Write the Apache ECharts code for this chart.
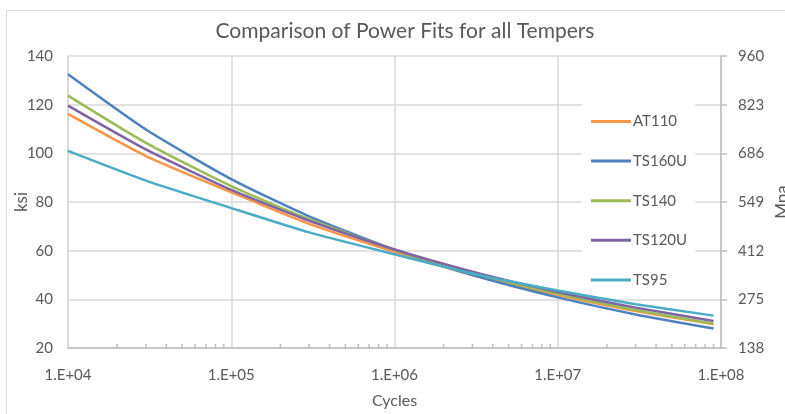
<!DOCTYPE html>
<html>
<head>
<meta charset="utf-8">
<script src="https://cdn.jsdelivr.net/npm/echarts@6/dist/echarts.min.js"></script>
<style>
  html, body { margin: 0; padding: 0; background: #fff; }
  #chart { width: 785px; height: 414px; }
</style>
</head>
<body>
<div id="chart"></div>
<script>
var cycles = [1e4, 3e4, 1e5, 3e5, 1e6, 3e6, 1e7, 3e7, 9e7]

var at110 = [116.2, 98.9, 84.0, 71.0, 59.5, 50.0, 41.8, 35.2, 29.8]
var ts160u = [132.5, 109.8, 89.4, 74.1, 60.4, 50.0, 40.8, 33.8, 28.0]
var ts140 = [123.7, 104.3, 86.5, 72.9, 60.4, 50.9, 42.3, 35.6, 30.0]
var ts120u = [119.6, 101.6, 85.0, 72.3, 60.5, 51.4, 43.0, 36.6, 31.1]
var ts95 = [101.0, 88.8, 77.5, 67.5, 58.5, 50.6, 43.6, 38.0, 33.3]

var mpaTicks = ['138', '275', '412', '549', '686', '823', '960']
var minorTicks = []
;[1e4, 1e5, 1e6, 1e7].forEach(function (d) {
  for (var k = 2; k <= 9; k++) minorTicks.push(d * k)
})

var grey = '#595959'
var font = 'Lato, "Liberation Sans", sans-serif'

function pairs(vals) {
  return cycles.map(function (c, i) { return [c, vals[i]] })
}

function line(name, vals, color) {
  return {
    name: name,
    type: 'line',
    data: pairs(vals),
    symbol: 'none',
    smooth: 0.2,
    lineStyle: { width: 2.5, color: color },
    itemStyle: { color: color },
    z: 3
  }
}

var chart = echarts.init(document.getElementById('chart'))

var option = {
  animation: false,
  textStyle: { fontFamily: font },
  graphic: [
    {
      type: 'rect',
      shape: { x: 6.5, y: 10.5, width: 820, height: 440 },
      style: { fill: 'none', stroke: '#d9d9d9', lineWidth: 1 },
      silent: true
    }
  ],
  title: {
    text: 'Comparison of Power Fits for all Tempers',
    left: 400,
    textAlign: 'center',
    top: 16,
    textStyle: { fontFamily: font, fontSize: 21, fontWeight: 'normal', color: grey }
  },
  grid: { left: 68, right: 64, top: 56, bottom: 66, outerBoundsMode: 'none', containLabel: false },
  legend: {
    orient: 'vertical',
    left: 582,
    top: 104,
    padding: [10, 8, 3, 9],
    backgroundColor: '#fff',
    icon: 'path://M0,0 L40,0 L40,3 L0,3 Z',
    symbolKeepAspect: true,
    itemWidth: 40,
    itemHeight: 14,
    itemGap: 24.6,
    textStyle: { fontFamily: font, fontSize: 15, color: grey, padding: [0, 0, 0, -3] },
    data: ['AT110', 'TS160U', 'TS140', 'TS120U', 'TS95'],
    z: 10
  },
  xAxis: {
    type: 'log',
    logBase: 10,
    min: 1e4,
    max: 1e8,
    name: 'Cycles',
    nameLocation: 'middle',
    nameGap: 45,
    nameMoveOverlap: false,
    nameTextStyle: { fontFamily: font, fontSize: 16, color: grey },
    axisLine: { lineStyle: { color: '#bfbfbf', width: 1.5 } },
    axisTick: { show: false },
    axisLabel: {
      margin: 20,
      fontFamily: font,
      fontSize: 15,
      color: grey,
      formatter: function (v) {
        var e = Math.round(Math.log10(v))
        return '1.E+' + (e < 10 ? '0' + e : e)
      }
    },
    splitLine: { show: true, lineStyle: { color: '#d9d9d9', width: 1.5 } }
  },
  yAxis: [
    {
      type: 'value',
      min: 20,
      max: 140,
      interval: 20,
      name: 'ksi',
      nameLocation: 'middle',
      nameRotate: 90,
      nameGap: 38,
      nameMoveOverlap: false,
      nameTextStyle: { fontFamily: font, fontSize: 17, color: grey },
      axisLine: { show: true, lineStyle: { color: '#d9d9d9', width: 1.5 } },
      axisTick: { show: false },
      axisLabel: { margin: 15, fontFamily: font, fontSize: 15, color: grey },
      splitLine: { show: true, lineStyle: { color: '#d9d9d9', width: 1.5 } }
    },
    {
      type: 'value',
      position: 'right',
      min: 20,
      max: 140,
      interval: 20,
      name: 'Mpa',
      nameLocation: 'middle',
      nameRotate: 90,
      nameGap: 53,
      nameMoveOverlap: false,
      nameTextStyle: { fontFamily: font, fontSize: 17, color: grey },
      axisLine: { show: true, lineStyle: { color: '#bfbfbf', width: 1.5 } },
      axisTick: { show: true, length: 6, inside: false, lineStyle: { color: '#bfbfbf', width: 1.5 } },
      axisLabel: {
        margin: 17,
        fontFamily: font,
        fontSize: 15,
        color: grey,
        formatter: function (v) { return mpaTicks[Math.round((v - 20) / 20)] }
      },
      splitLine: { show: false }
    }
  ],
  series: [
    {
      name: 'minor',
      type: 'custom',
      silent: true,
      data: minorTicks.map(function (c) { return [c, 20] }),
      renderItem: function (params, api) {
        var p = api.coord([api.value(0), api.value(1)])
        return {
          type: 'line',
          shape: { x1: p[0], y1: p[1], x2: p[0], y2: p[1] - 4 },
          style: { stroke: '#bfbfbf', lineWidth: 1.5 }
        }
      },
      z: 2
    },
    line('AT110', at110, '#F79646'),
    line('TS160U', ts160u, '#4F81BD'),
    line('TS140', ts140, '#9BBB59'),
    line('TS120U', ts120u, '#8064A2'),
    line('TS95', ts95, '#4BACC6')
  ]
}

chart.setOption(option)
</script>
</body>
</html>
